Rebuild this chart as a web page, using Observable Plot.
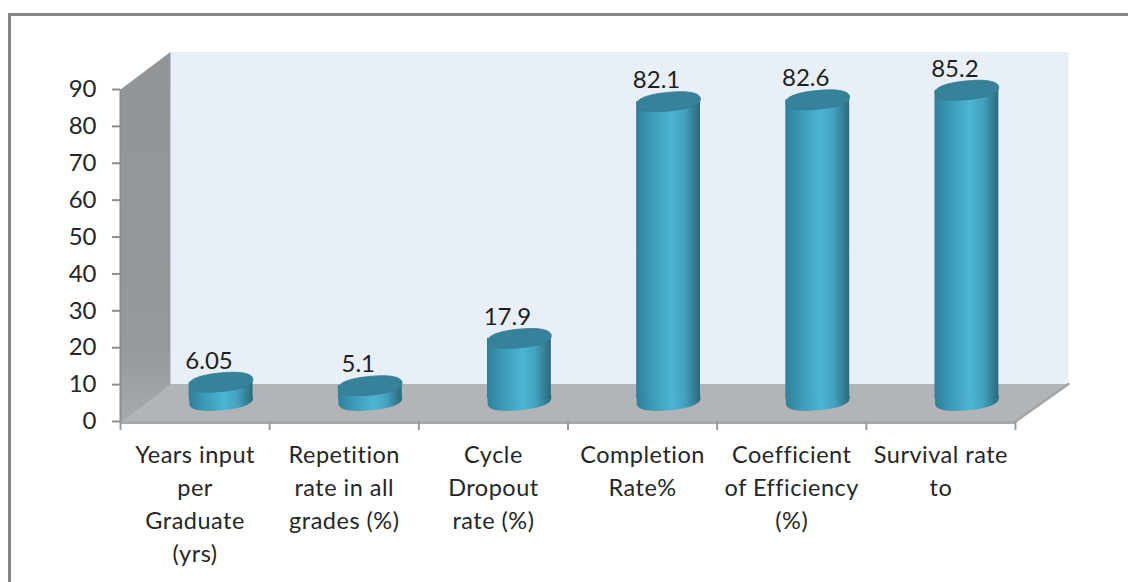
<!DOCTYPE html>
<html>
<head>
<meta charset="utf-8">
<script src="https://cdn.jsdelivr.net/npm/d3@7"></script>
<script src="https://cdn.jsdelivr.net/npm/@observablehq/plot@0.6"></script>
<style>
  html, body { margin: 0; padding: 0; background: #fff; overflow: hidden; }
  #chart { position: relative; width: 1128px; height: 582px; }
  #frame { position: absolute; left: 8px; top: 13px; right: 0; bottom: 0; border-top: 3px solid #858585; border-left: 3px solid #858585; pointer-events: none; }
  svg { display: block; }
  .catlabel text { letter-spacing: 0.5px; }
</style>
</head>
<body>
<div id="chart"><div id="frame"></div></div>
<script>
const categories = [
  "Years input\nper\nGraduate\n(yrs)",
  "Repetition\nrate in all\ngrades (%)",
  "Cycle\nDropout\nrate (%)",
  "Completion\nRate%",
  "Coefficient\nof Efficiency\n(%)",
  "Survival rate\nto"
];
const values = [6.05, 5.1, 17.9, 82.1, 82.6, 85.2];
const valueLabels = ["6.05", "5.1", "17.9", "82.1", "82.6", "85.2"];
const yTicks = [0, 10, 20, 30, 40, 50, 60, 70, 80, 90];
const xTicks = [0, 1, 2, 3, 4, 5, 6];

const rows = categories.map((category, i) => ({
  category, value: values[i], label: valueLabels[i], pos: i + 0.5
}));

// Oblique depth of the 3D box, in data units of each scale
const depthX = 0.335, depthY = 10.16, xMax = 6, yMax = 90;
const leftWall = [
  {x: 0, y: 0}, {x: depthX, y: depthY}, {x: depthX, y: yMax + depthY}, {x: 0, y: yMax}
];
const backWall = [
  {x: depthX, y: depthY}, {x: xMax + depthX + 0.02, y: depthY},
  {x: xMax + depthX + 0.02, y: yMax + depthY}, {x: depthX, y: yMax + depthY}
];
const floor = [
  {x: 0, y: 0}, {x: xMax, y: 0}, {x: xMax + depthX + 0.02, y: depthY}, {x: depthX, y: depthY}
];

// Tilted ellipse helpers for the cylinder caps
const RX = 32, RY = 9.3, TILT = -5.5 * Math.PI / 180, K = 0.64;
const pt = (u, v) => [
  u * Math.cos(TILT) - v * Math.sin(TILT),
  u * Math.sin(TILT) + v * Math.cos(TILT)
];
function quarter(ctx, a, b, c) {
  ctx.bezierCurveTo(...pt(...a), ...pt(...b), ...pt(...c));
}
const capSymbol = {
  draw(ctx) {
    ctx.moveTo(...pt(RX, 0));
    quarter(ctx, [RX, K * RY], [K * RX, RY], [0, RY]);
    quarter(ctx, [-K * RX, RY], [-RX, K * RY], [-RX, 0]);
    quarter(ctx, [-RX, -K * RY], [-K * RX, -RY], [0, -RY]);
    quarter(ctx, [K * RX, -RY], [RX, -K * RY], [RX, 0]);
    ctx.closePath();
  }
};
const baseSymbol = {
  draw(ctx) {
    const [rx, ry] = pt(RX, 0), [lx, ly] = pt(-RX, 0);
    ctx.moveTo(rx, ry);
    quarter(ctx, [RX, K * RY], [K * RX, RY], [0, RY]);
    quarter(ctx, [-K * RX, RY], [-RX, K * RY], [-RX, 0]);
    ctx.lineTo(lx, -5.5);
    ctx.lineTo(rx, -5.5);
    ctx.closePath();
  }
};

function gradients() {
  const defs = d3.create("svg:defs");
  const add = (id, horizontal, stops) => {
    const g = defs.append("linearGradient").attr("id", id)
      .attr("x1", 0).attr("y1", 0)
      .attr("x2", horizontal ? 1 : 0).attr("y2", horizontal ? 0 : 1);
    stops.forEach(([o, c]) => g.append("stop").attr("offset", o).attr("stop-color", c));
  };
  add("cyl", true, [[0, "#2f8099"], [0.25, "#3c9bb8"], [0.55, "#4cb4d4"], [0.75, "#43a3c0"], [0.9, "#358097"], [1, "#2b6a7d"]]);
  add("sidewall", false, [[0, "#929598"], [0.8, "#96999c"], [1, "#a8abae"]]);
  return defs.node();
}

const depthDx = 26, topDy = -17, baseDy = -20.5, labelDx = 14, labelDy = -38;
const font = "Lato";

const plot = Plot.plot({
  width: 1128,
  height: 582,
  marginLeft: 120,
  marginRight: 113,
  marginTop: 89,
  marginBottom: 161,
  style: {fontFamily: font, background: "#ffffff", color: "#262626", overflow: "visible"},
  x: {type: "linear", domain: [0, xMax], axis: null},
  y: {type: "linear", domain: [0, yMax], axis: null},
  marks: [
    gradients,
    Plot.line(backWall, {x: "x", y: "y", fill: "#e8eff6", stroke: "none"}),
    Plot.line(leftWall, {x: "x", y: "y", fill: "url(#sidewall)", stroke: "none"}),
    Plot.line(floor, {x: "x", y: "y", fill: "#b1b5b8", stroke: "none"}),
    Plot.line([floor[1], floor[2]], {x: "x", y: "y", stroke: "#a3a6a8", strokeWidth: 2.5}),
    Plot.line([floor[0], floor[3]], {x: "x", y: "y", stroke: "#a3a6a8", strokeWidth: 1.5}),
    Plot.ruleY([0], {stroke: "#a6a8aa", strokeWidth: 3, dy: 1}),
    Plot.ruleX([0], {stroke: "#8b8d8f", strokeWidth: 2}),
    Plot.axisY({
      anchor: "left", ticks: yTicks, tickSize: 8, tickPadding: 16, label: null,
      fontSize: 24, stroke: "#8b8d8f", strokeWidth: 2, tickFormat: d => d
    }),
    Plot.axisX({
      anchor: "bottom", ticks: xTicks, tickSize: 9, tickFormat: () => "", label: null,
      stroke: "#9a9c9e", strokeWidth: 2
    }),
    // cylinders
    Plot.dot(rows, {x: "pos", y: () => 0, symbol: baseSymbol, fill: "url(#cyl)", dx: depthDx, dy: baseDy}),
    Plot.rect(rows, {
      x1: d => d.pos - 0.214, x2: d => d.pos + 0.214, y1: () => 0, y2: "value",
      fill: "url(#cyl)", dx: depthDx, dy: topDy, insetBottom: 5.5
    }),
    Plot.dot(rows, {x: "pos", y: "value", symbol: capSymbol, fill: "#36829a", stroke: "#33798f", strokeWidth: 0.8, dx: depthDx, dy: topDy}),
    // value labels
    Plot.text(rows, {x: "pos", y: "value", text: "label", dx: labelDx, dy: labelDy, fontSize: 24, fill: "#1f1f1f"}),
    // category labels
    Plot.text(rows, {
      x: "pos", y: () => 0, text: "category", lineAnchor: "top", lineHeight: 1.4,
      dy: 18.5, fontSize: 23.5, fill: "#262626", className: "catlabel"
    })
  ]
});
document.getElementById("chart").prepend(plot);
</script>
</body>
</html>
